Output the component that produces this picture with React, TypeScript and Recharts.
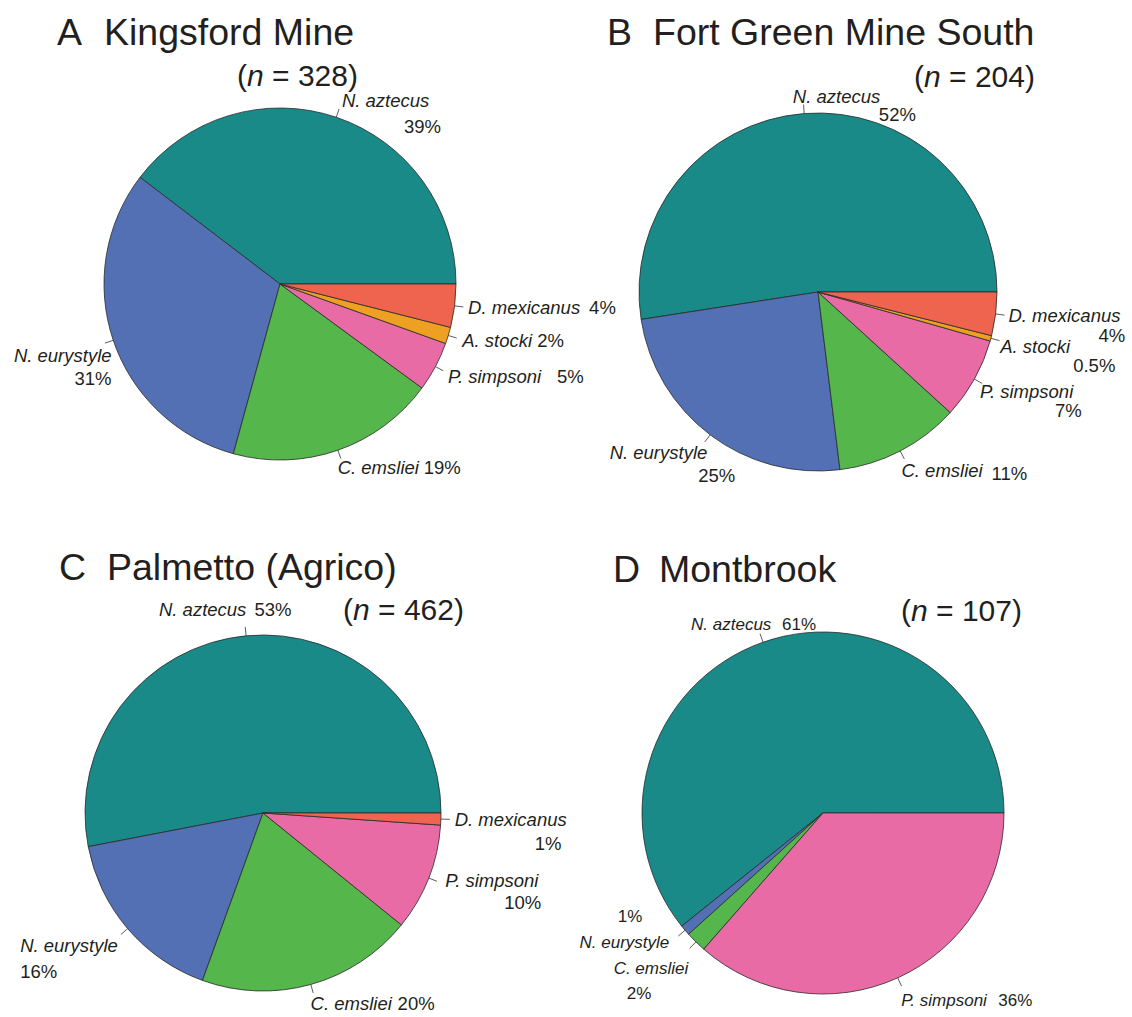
import React from "react";
import { PieChart, Pie, Cell } from "recharts";

const FONT = "'Liberation Sans', Arial, Helvetica, sans-serif";
const INK = "#231f20";
const RAD = Math.PI / 180;

const speciesColors: Record<string, string> = {
  "N. aztecus": "#1a8a89",
  "N. eurystyle": "#5470b4",
  "C. emsliei": "#54b64b",
  "P. simpsoni": "#e96ba6",
  "A. stocki": "#eea023",
  "D. mexicanus": "#ef644e",
};

// A  Kingsford Mine
const kingsfordSpecies = ["N. aztecus", "N. eurystyle", "C. emsliei", "P. simpsoni", "A. stocki", "D. mexicanus"];
const kingsfordCounts = [130, 102, 63, 15, 5, 13];
const kingsfordPct = ["39%", "31%", "19%", "5%", "2%", "4%"];

// B  Fort Green Mine South
const fortGreenSpecies = ["N. aztecus", "N. eurystyle", "C. emsliei", "P. simpsoni", "A. stocki", "D. mexicanus"];
const fortGreenCounts = [107, 50, 23, 15, 1, 8];
const fortGreenPct = ["52%", "25%", "11%", "7%", "0.5%", "4%"];

// C  Palmetto (Agrico)
const palmettoSpecies = ["N. aztecus", "N. eurystyle", "C. emsliei", "P. simpsoni", "D. mexicanus"];
const palmettoCounts = [245, 76, 91, 45, 5];
const palmettoPct = ["53%", "16%", "20%", "10%", "1%"];

// D  Montbrook
const montbrookSpecies = ["N. aztecus", "N. eurystyle", "C. emsliei", "P. simpsoni"];
const montbrookCounts = [65, 1, 2, 39];
const montbrookPct = ["61%", "1%", "2%", "36%"];

// label nudges relative to the 1.1r point (a = name anchor, pa = pct anchor)
type LabelPos = { a: "start" | "end"; nx: number; ny: number; pa: "start" | "end"; px: number; py: number };

const kingsfordLabelPos: LabelPos[] = [
  { a: "start", nx: 0, ny: 6, pa: "start", px: 62, py: 32 },
  { a: "end", nx: 15, ny: 16, pa: "end", px: 15, py: 39 },
  { a: "start", nx: -6, ny: 7, pa: "start", px: 80, py: 7 },
  { a: "start", nx: -3, ny: 8, pa: "start", px: 106, py: 8 },
  { a: "start", nx: -3, ny: 6, pa: "start", px: 72, py: 6 },
  { a: "start", nx: -4, ny: 6, pa: "start", px: 117, py: 6 },
];
const fortGreenLabelPos: LabelPos[] = [
  { a: "start", nx: -10, ny: 7, pa: "start", px: 76, py: 25 },
  { a: "end", nx: 8, ny: 10, pa: "end", px: 36, py: 33 },
  { a: "start", nx: -7, ny: 10, pa: "start", px: 83, py: 13 },
  { a: "start", nx: -10, ny: 10, pa: "start", px: 65, py: 29 },
  { a: "start", nx: -8, ny: 10, pa: "start", px: 65, py: 29 },
  { a: "start", nx: -5, ny: 6, pa: "start", px: 85, py: 26 },
];
const palmettoLabelPos: LabelPos[] = [
  { a: "end", nx: 2, ny: -2, pa: "start", px: 10, py: -2 },
  { a: "start", nx: -94, ny: 12, pa: "start", px: -94, py: 38 },
  { a: "start", nx: -5, ny: 8, pa: "start", px: 82, py: 8 },
  { a: "start", nx: 0, ny: 2, pa: "start", px: 59, py: 24 },
  { a: "start", nx: -4, ny: 6, pa: "start", px: 76, py: 30 },
];
const montbrookLabelPos: LabelPos[] = [
  { a: "start", nx: -66, ny: 5, pa: "start", px: 25, py: 5 },
  { a: "end", nx: -2, ny: 6, pa: "end", px: -29, py: -20 },
  { a: "end", nx: 5, ny: 19, pa: "end", px: -32, py: 44 },
  { a: "start", nx: -4, ny: 12, pa: "start", px: 93, py: 12 },
];

function makeLabel(names: string[], pcts: string[], pos: LabelPos[], fontSize: number) {
  return (props: any) => {
    const { cx, cy, midAngle, outerRadius, index } = props;
    const ux = Math.cos(-midAngle * RAD);
    const uy = Math.sin(-midAngle * RAD);
    const lx = cx + outerRadius * 1.1 * ux;
    const ly = cy + outerRadius * 1.1 * uy;
    const p = pos[index];
    return (
      <g key={`lbl-${names[index]}`}>
        <line
          x1={cx + outerRadius * ux}
          y1={cy + outerRadius * uy}
          x2={cx + outerRadius * 1.05 * ux}
          y2={cy + outerRadius * 1.05 * uy}
          stroke="#333"
          strokeWidth={0.8}
        />
        <text x={lx + p.nx} y={ly + p.ny} textAnchor={p.a} fontStyle="italic" fontSize={fontSize} fontFamily={FONT} fill={INK}>
          {names[index]}
        </text>
        <text x={lx + p.px} y={ly + p.py} textAnchor={p.pa} fontSize={fontSize} fontFamily={FONT} fill={INK}>
          {pcts[index]}
        </text>
      </g>
    );
  };
}

const panels = [
  { key: "A", site: "Kingsford Mine", n: 328, cx: 280, cy: 284, r: 176, species: kingsfordSpecies, counts: kingsfordCounts, pct: kingsfordPct, pos: kingsfordLabelPos, fs: 18.5,
    title: { x: 57, y: 45, nameX: 104 }, nLabel: { x: 237, y: 86 } },
  { key: "B", site: "Fort Green Mine South", n: 204, cx: 818, cy: 292, r: 179, species: fortGreenSpecies, counts: fortGreenCounts, pct: fortGreenPct, pos: fortGreenLabelPos, fs: 18.5,
    title: { x: 607, y: 45, nameX: 653 }, nLabel: { x: 914, y: 87 } },
  { key: "C", site: "Palmetto (Agrico)", n: 462, cx: 263, cy: 813, r: 178, species: palmettoSpecies, counts: palmettoCounts, pct: palmettoPct, pos: palmettoLabelPos, fs: 18.5,
    title: { x: 59, y: 580, nameX: 107 }, nLabel: { x: 343, y: 620 } },
  { key: "D", site: "Montbrook", n: 107, cx: 823, cy: 813, r: 181, species: montbrookSpecies, counts: montbrookCounts, pct: montbrookPct, pos: montbrookLabelPos, fs: 17,
    title: { x: 613, y: 582, nameX: 659 }, nLabel: { x: 901, y: 621 } },
];

export default function App() {
  return (
    <div style={{ position: "absolute", left: 0, top: 0, width: 1132, height: 1017, background: "#fff" }}>
      <PieChart width={1132} height={1017} margin={{ top: 0, right: 0, bottom: 0, left: 0 }}>
        {panels.map((pn) => (
          <Pie
            key={pn.key}
            data={pn.species.map((s, i) => ({ name: s, value: pn.counts[i] }))}
            dataKey="value"
            nameKey="name"
            cx={pn.cx}
            cy={pn.cy}
            innerRadius={0}
            outerRadius={pn.r}
            startAngle={0}
            endAngle={360}
            stroke="#2a2a2a"
            strokeWidth={0.8}
            label={makeLabel(pn.species, pn.pct, pn.pos, pn.fs)}
            labelLine={false}
            isAnimationActive={false}
          >
            {pn.species.map((s) => (
              <Cell key={s} fill={speciesColors[s]} />
            ))}
          </Pie>
        ))}
      </PieChart>
      <svg width={1132} height={1017} style={{ position: "absolute", left: 0, top: 0, pointerEvents: "none" }}>
        {panels.map((pn) => (
          <g key={pn.key} fontFamily={FONT} fill={INK}>
            <text x={pn.title.x} y={pn.title.y} fontSize={37.5}>{pn.key}</text>
            <text x={pn.title.nameX} y={pn.title.y} fontSize={37.5}>{pn.site}</text>
            <text x={pn.nLabel.x} y={pn.nLabel.y} fontSize={30}>
              (<tspan fontStyle="italic">n</tspan> = {pn.n})
            </text>
          </g>
        ))}
      </svg>
    </div>
  );
}
